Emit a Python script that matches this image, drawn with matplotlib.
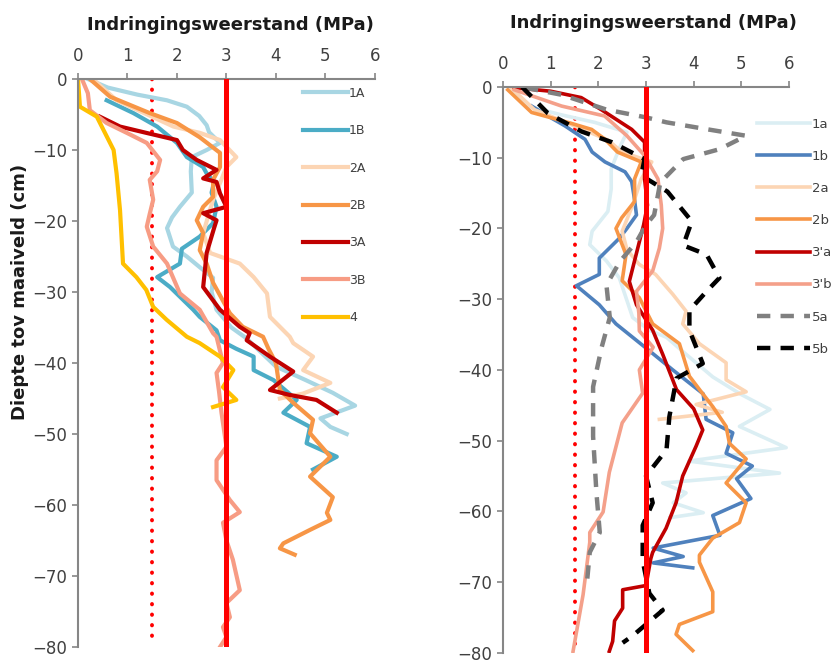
import matplotlib.pyplot as plt

# ---- left panel data (value MPa, depth cm) ----
d_1A = [0, -1.2, -2.2, -3.0, -3.9, -5.2, -6.5, -7.5, -9, -10, -11, -13, -16, -18, -19.5, -21, -23.6, -25, -26.5, -28, -30, -32.5, -35, -36.5, -38.5, -40.5, -42.4, -44.2, -46, -47.8, -49, -50]
v_1A = [0.2, 0.6, 1.2, 1.8, 2.2, 2.45, 2.6, 2.65, 2.87, 2.6, 2.3, 2.28, 2.3, 2.06, 1.9, 1.8, 1.92, 2.2, 2.46, 2.73, 2.7, 2.8, 3.1, 3.4, 3.7, 4.0, 4.6, 5.15, 5.6, 4.9, 5.1, 5.43]

d_1B = [-3, -4.8, -6.7, -9, -11, -12.4, -13.3, -14.5, -16, -18, -20.3, -22.2, -23.9, -26, -27.9, -29.3, -32.5, -33.5, -35.4, -36.8, -38, -39.1, -41, -42.4, -45.2, -47, -49, -51.3, -53.2, -55]
v_1B = [0.58, 1.12, 1.6, 2.0, 2.2, 2.53, 2.6, 2.75, 2.7, 2.8, 2.73, 2.46, 2.1, 2.06, 1.6, 1.86, 2.33, 2.46, 2.8, 2.87, 3.2, 3.55, 3.55, 3.95, 4.42, 4.15, 4.69, 4.62, 5.23, 4.75]

d_2A = [0, -3, -5, -6.7, -7.6, -8.6, -11, -12.4, -15, -17, -21.7, -24.5, -26, -27.9, -30.2, -33.5, -36.3, -37.2, -39.1, -41, -42.8, -44.3, -45]
v_2A = [0.3, 0.78, 1.4, 1.93, 2.47, 2.87, 3.2, 3.0, 2.85, 2.73, 2.53, 2.67, 3.27, 3.55, 3.82, 3.88, 4.28, 4.35, 4.75, 4.55, 5.1, 4.55, 4.08]

d_2B = [0, -2.5, -4.8, -6.2, -8.2, -10.4, -12.4, -14.2, -16.6, -18, -19.9, -21.7, -24.1, -26, -28.7, -33, -34.9, -36.3, -38, -40, -43.8, -45.6, -48, -49.9, -53.2, -56, -58.9, -61.1, -62.1, -63.5, -65.4, -66.1, -67]
v_2B = [0.24, 0.65, 1.45, 2.0, 2.46, 2.87, 2.87, 2.73, 2.73, 2.53, 2.4, 2.53, 2.46, 2.6, 2.73, 3.07, 3.33, 3.74, 3.85, 4.0, 4.08, 4.35, 4.75, 4.69, 5.1, 4.69, 5.15, 5.03, 5.1, 4.69, 4.15, 4.08, 4.38]

d_3A = [-5.3, -6.7, -7.6, -8.6, -10, -11.4, -12.8, -14, -14.5, -16.1, -18, -18.9, -19.9, -21, -24.5, -29.3, -32.5, -34.9, -35.8, -36.8, -39.1, -41.2, -43.8, -44.5, -45.2, -47]
v_3A = [0.44, 0.85, 1.39, 2.0, 2.12, 2.4, 2.8, 2.53, 2.8, 2.87, 3.0, 2.53, 2.8, 2.75, 2.6, 2.53, 2.87, 3.27, 3.47, 3.41, 3.88, 4.35, 3.88, 4.28, 4.82, 5.23]

d_3B = [0, -2, -4.4, -6.2, -7.6, -9, -11.4, -13, -14.2, -17, -19, -20.8, -23.6, -26, -30.2, -32.5, -35.8, -36.3, -40, -41.4, -44, -47, -51.8, -53.7, -56.5, -59.3, -61, -62.5, -65, -67.7, -72, -73.8, -75.8, -77.2, -78.6, -80]
v_3B = [0.08, 0.2, 0.24, 0.58, 0.99, 1.39, 1.66, 1.6, 1.45, 1.52, 1.45, 1.39, 1.52, 1.8, 2.06, 2.46, 2.73, 2.8, 2.93, 2.8, 2.85, 2.9, 3.0, 2.8, 2.8, 3.07, 3.27, 2.93, 3.0, 3.13, 3.27, 3.0, 3.07, 2.93, 3.0, 2.87]

d_4 = [0, -3.9, -5.3, -10, -13.3, -18.5, -26, -27.9, -29.7, -32.1, -33.9, -36.3, -37.2, -39.1, -41, -43.4, -45.2, -46.2]
v_4 = [0, 0.04, 0.38, 0.72, 0.78, 0.85, 0.91, 1.18, 1.38, 1.52, 1.79, 2.2, 2.46, 2.87, 3.14, 2.93, 3.2, 2.73]

# ---- right panel data ----
d_1a = [0, -2.7, -3.9, -5, -6.4, -8.5, -11.6, -14.4, -17.6, -20.4, -22.3, -24.6, -27, -32.6, -34.4, -35.4, -37.8, -41, -43.5, -45.6, -48, -51, -52.9, -54.6, -56, -57.4, -58.8, -60.2, -60.9]
v_1a = [0.14, 0.52, 1.2, 1.92, 2.6, 2.45, 2.27, 2.27, 2.2, 1.87, 1.82, 2.17, 2.44, 2.72, 3.07, 3.43, 3.84, 4.4, 5.0, 5.6, 4.96, 5.94, 3.9, 5.8, 3.35, 3.84, 3.57, 4.2, 3.5]

d_1b = [-2.7, -4.1, -5.5, -7.4, -9.2, -10.6, -12, -13.4, -15.5, -18.1, -20, -21.4, -24.2, -26.5, -28.1, -30.8, -33.5, -37.3, -40, -43.4, -47, -48.9, -51.8, -53.6, -55.4, -58.2, -60.6, -63.4, -65.2, -66.4, -67.3, -68]
v_1b = [0.6, 0.94, 1.3, 1.72, 1.87, 2.14, 2.56, 2.7, 2.75, 2.8, 2.6, 2.44, 2.02, 2.02, 1.54, 2.02, 2.37, 3.07, 3.56, 4.2, 4.26, 4.82, 4.68, 5.23, 4.9, 5.2, 4.4, 4.55, 3.15, 3.78, 3.15, 3.98]

d_2a = [0, -3.2, -5.5, -7.5, -9.2, -10.6, -13, -16.7, -20.4, -23, -25.1, -26.5, -29.3, -31.7, -33.5, -36.3, -39, -41.4, -43.1, -44.9, -46, -47]
v_2a = [0.15, 0.66, 1.5, 2.2, 2.5, 3.12, 2.9, 2.72, 2.5, 2.6, 2.86, 3.2, 3.56, 3.84, 3.77, 4.12, 4.68, 4.68, 5.1, 4.05, 4.6, 3.28]

d_2b = [-0.4, -3.6, -5, -6, -7.4, -9.2, -10.6, -13, -16.2, -18.5, -20, -23.7, -27.4, -29.8, -33.5, -36.3, -40.9, -43.3, -45.2, -48, -50.4, -52.6, -56, -58.8, -61.6, -63.8, -66.2, -67.2, -71.4, -74.2, -76, -77.4, -79.7]
v_2b = [0.1, 0.6, 1.36, 1.86, 2.14, 2.4, 2.9, 2.76, 2.76, 2.49, 2.37, 2.58, 2.5, 2.86, 3.14, 3.7, 3.91, 4.18, 4.4, 4.68, 4.75, 5.1, 4.68, 5.1, 4.96, 4.4, 4.12, 4.12, 4.4, 4.4, 3.7, 3.63, 3.98]

d_3a = [-0.1, -0.6, -1.5, -3.2, -6, -7.8, -13, -16.7, -19.5, -21.9, -27.5, -30.8, -34.4, -37.8, -42.8, -45.5, -48.5, -50.8, -55, -58.8, -62.4, -65.8, -66.7, -70.5, -71.1, -73.7, -75.5, -78.4, -79.8]
v_3a = [0.24, 1.0, 1.64, 2.06, 2.7, 2.97, 2.97, 3.03, 2.95, 2.86, 2.65, 2.8, 3.14, 3.35, 3.64, 4.0, 4.19, 4.05, 3.77, 3.63, 3.42, 3.14, 3.1, 3.0, 2.51, 2.51, 2.34, 2.3, 2.23]

d_3b = [-0.4, -2.7, -4.1, -6.9, -9.7, -13, -16.7, -20, -22.8, -26, -28.9, -32, -34.5, -36.8, -40, -43.3, -47.5, -54.5, -60.1, -63, -64.4, -71.8, -79.8]
v_3b = [0.24, 1.23, 2.13, 2.6, 2.97, 3.25, 3.32, 3.35, 3.28, 3.14, 2.8, 2.85, 2.86, 3.15, 2.86, 2.93, 2.5, 2.23, 2.1, 1.82, 1.82, 1.68, 1.47]

d_5a = [-0.1, -1.1, -3.2, -4.3, -5.0, -6, -6.9, -8.8, -10.2, -13.5, -18.1, -19.5, -21.9, -24.7, -28, -32.6, -36.8, -42.4, -49.4, -57.4, -63, -65.8, -70.9]
v_5a = [0.46, 1.23, 2.17, 3.0, 3.43, 4.3, 5.1, 4.54, 3.78, 3.3, 3.17, 3.0, 2.8, 2.45, 2.17, 2.24, 2.07, 1.89, 1.89, 1.96, 2.03, 1.82, 1.75]

d_5b = [0, -3.7, -6.3, -7.8, -10.2, -12.5, -14.8, -19, -22.4, -23.7, -27, -28.9, -31.6, -34.4, -39.1, -41.2, -46.6, -51.3, -55, -58.8, -62, -67, -71.6, -74, -77.6, -78.6]
v_5b = [0.4, 0.94, 1.65, 2.28, 2.97, 2.9, 3.45, 3.96, 3.78, 4.27, 4.54, 4.27, 3.91, 3.91, 4.19, 3.64, 3.49, 3.43, 3.0, 3.14, 2.93, 2.93, 3.07, 3.35, 2.72, 2.51]

left_series = [
    ('1A', v_1A, d_1A, '#a8d6e3', '-'),
    ('1B', v_1B, d_1B, '#4bacc6', '-'),
    ('2A', v_2A, d_2A, '#fcd5b4', '-'),
    ('2B', v_2B, d_2B, '#f79646', '-'),
    ('3A', v_3A, d_3A, '#c00000', '-'),
    ('3B', v_3B, d_3B, '#f79c84', '-'),
    ('4', v_4, d_4, '#ffc000', '-'),
]
right_series = [
    ('1a', v_1a, d_1a, '#dbeef3', '-'),
    ('1b', v_1b, d_1b, '#4f81bd', '-'),
    ('2a', v_2a, d_2a, '#fcd5b4', '-'),
    ('2b', v_2b, d_2b, '#f79646', '-'),
    ("3'a", v_3a, d_3a, '#c00000', '-'),
    ("3'b", v_3b, d_3b, '#f4a08a', '-'),
    ('5a', v_5a, d_5a, '#808080', '--'),
    ('5b', v_5b, d_5b, '#000000', '--'),
]

grey = '#868686'
fig = plt.figure(figsize=(8.34, 6.64), dpi=100)
ax1 = fig.add_axes([0.0935, 0.0256, 0.356, 0.8554])
ax2 = fig.add_axes([0.6031, 0.017, 0.343, 0.852])


def style(ax):
    ax.set_xlim(0, 6)
    ax.set_ylim(-80, 0)
    ax.set_xticks(range(0, 7))
    ax.set_yticks(range(-80, 1, 10))
    ax.xaxis.tick_top()
    for s in ['right', 'bottom']:
        ax.spines[s].set_visible(False)
    for s in ['left', 'top']:
        ax.spines[s].set_color(grey)
        ax.spines[s].set_linewidth(1.5)
    ax.tick_params(colors=grey, labelcolor='#404040', labelsize=12, length=4, width=1.2)
    ax.tick_params(axis='x', pad=6)


def draw(ax, series, lw):
    for name, v, d, c, ls in series:
        if ls == '--':
            ax.plot(v, d, color=c, lw=lw + 0.6, dashes=(3, 2.3), label=name)
        else:
            ax.plot(v, d, color=c, lw=lw, label=name, solid_joinstyle='round')
    ax.plot([1.5, 1.5], [0, -79], color='#ff0000', lw=2.8, linestyle=(0, (0.1, 2.6)),
            dash_capstyle='round', zorder=1)
    ax.plot([3, 3], [0, -80], color='#ff0000', lw=3.6, zorder=5)


style(ax1)
draw(ax1, left_series, 3.0)
style(ax2)
draw(ax2, right_series, 2.6)

leg1 = ax1.legend(loc='upper left', bbox_to_anchor=(0.74, 0.995), frameon=False, fontsize=9,
                  labelspacing=1.95, handlelength=3.6, handletextpad=0.1, borderaxespad=0)
for t in leg1.get_texts():
    t.set_color('#404040')
leg2 = ax2.legend(loc='upper left', bbox_to_anchor=(0.87, 0.955), frameon=False, fontsize=9.5,
                  labelspacing=1.45, handlelength=4.0, handletextpad=0.15, borderaxespad=0)
for t in leg2.get_texts():
    t.set_color('#404040')

fig.text(0.276, 0.962, 'Indringingsweerstand (MPa)', ha='center', va='center',
         fontsize=13, fontweight='bold', color='#1a1a1a')
fig.text(0.784, 0.966, 'Indringingsweerstand (MPa)', ha='center', va='center',
         fontsize=13, fontweight='bold', color='#1a1a1a')
fig.text(0.024, 0.56, 'Diepte tov maaiveld (cm)', ha='center', va='center', rotation=90,
         fontsize=13, fontweight='bold', color='#1a1a1a')

fig.savefig('out.png', dpi=100)
